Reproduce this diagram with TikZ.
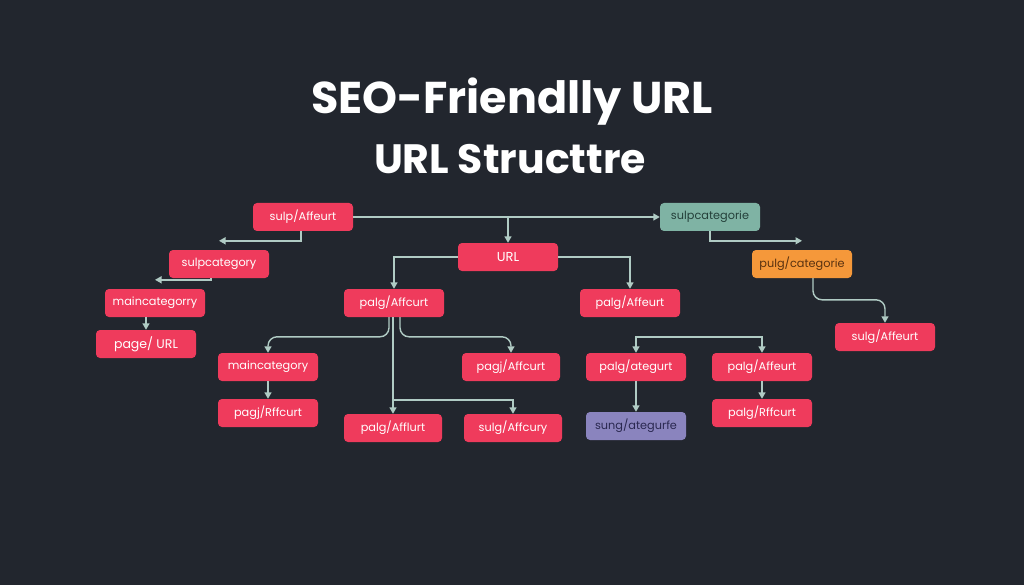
\documentclass[tikz,border=0pt]{standalone}
\usepackage{fontspec}
\setmainfont{Poppins}
\usetikzlibrary{arrows.meta,calc}
\definecolor{bg}{HTML}{22262E}
\definecolor{nred}{HTML}{EF3B5C}
\definecolor{nteal}{HTML}{7FB3A4}
\definecolor{norange}{HTML}{F5983A}
\definecolor{npurple}{HTML}{8A84BE}
\definecolor{lnc}{HTML}{B0CBC4}
\definecolor{tealtxt}{HTML}{24403A}
\definecolor{orangetxt}{HTML}{5A3210}
\definecolor{purpletxt}{HTML}{2A2850}
\tikzset{
  box/.style={rounded corners=4pt, minimum width=100pt, minimum height=28pt, inner sep=0pt, font=\fontsize{11.3}{13}\selectfont, text=white, fill=nred},
  tealbox/.style={box, fill=nteal, text=tealtxt},
  orangebox/.style={box, fill=norange, text=orangetxt},
  purplebox/.style={box, fill=npurple, text=purpletxt},
  conn/.style={draw=lnc, line width=1.4pt},
  arr/.style={conn, -{Triangle[width=7pt,length=6.5pt]}, lnc},
}
\begin{document}
\begin{tikzpicture}[x=1pt,y=-1pt]
\fill[bg] (0,0) rectangle (1024,585);
\useasboundingbox (0,0) rectangle (1024,585);
\node[font=\fontsize{44.5}{52}\selectfont\bfseries, text=white] (t1) at (512,102) {SEO-Friendlly URL};
\node[font=\fontsize{41}{48}\selectfont\bfseries, text=white] (t2) at (510,159) {URL Structtre};

\node[box] (a1) at (303,217) {sulp/Affeurt};
\node[box] (url) at (508,257) [font=\fontsize{13}{15}\selectfont] {URL};
\node[tealbox] (tl) at (710,217) {sulpcategorie};
\node[box] (sc) at (219,264) {sulpcategory};
\node[orangebox] (or) at (802,264) {pulg/categorie};
\node[box] (mc1) at (155,303) {maincategorry};
\node[box] (pu) at (146,344) [font=\fontsize{12.5}{15}\selectfont] {page/ URL};
\node[box] (p1) at (394,303) {palg/Affcurt};
\node[box] (p2) at (630,303) {palg/Affeurt};
\node[box] (sg) at (885,337) {sulg/Affeurt};
\node[box] (mc2) at (268,367) {maincategory};
\node[box] (pq) at (268,413) {pagj/Rffcurt};
\node[box, minimum width=98pt] (pj) at (511,367) {pagj/Affcurt};
\node[box, minimum width=98pt] (pb) at (393,428) {palg/Afflurt};
\node[box, minimum width=98pt] (sa) at (513,428) {sulg/Affcury};
\node[box] (pa) at (636,367) {palg/ategurt};
\node[box] (pf) at (762,367) {palg/Affeurt};
\node[purplebox] (su) at (636,426) {sung/ategurfe};
\node[box] (pr) at (762,413) {palg/Rffcurt};

\coordinate (br) at (699,337);

\draw[arr] (a1.east) -- (tl.west);
\draw[arr] (url.north |- a1.east) -- (url.north);
\draw[arr] ([xshift=-2pt]a1.south) |- ($(sc.north)+(0,-9)$);
\draw[arr] ([xshift=-8pt]sc.south) |- ($(mc1.north)+(0,-9)$);
\draw[arr] (pu.north |- mc1.south) -- (pu.north);
\draw[arr] (url.west) -| (p1.north);
\draw[arr] (url.east) -| (p2.north);
\draw[arr] (tl.south) |- ($(or.north)+(0,-9)$);
\draw[arr, rounded corners=9pt] ([xshift=11pt]or.south) |- ($(sg.north)+(0,-23)$) -- (sg.north);
\draw[arr, rounded corners=9pt] ([xshift=-5pt]p1.south) |- ($(mc2.north)+(0,-16)$) -- (mc2.north);
\draw[arr, rounded corners=9pt] ([xshift=6pt]p1.south) |- ($(pj.north)+(0,-16)$) -- (pj.north);
\draw[arr] (pb.north |- p1.south) -- (pb.north);
\draw[arr] ($(pb.north)+(0,-14)$) -| (sa.north);
\draw[arr] (mc2.south) -- (pq.north);
\draw[arr] (br) -| (pa.north);
\draw[arr] (br) -| (pf.north);
\draw[arr] (pa.south) -- (su.north);
\draw[arr] (pf.south) -- (pr.north);
\end{tikzpicture}
\end{document}
